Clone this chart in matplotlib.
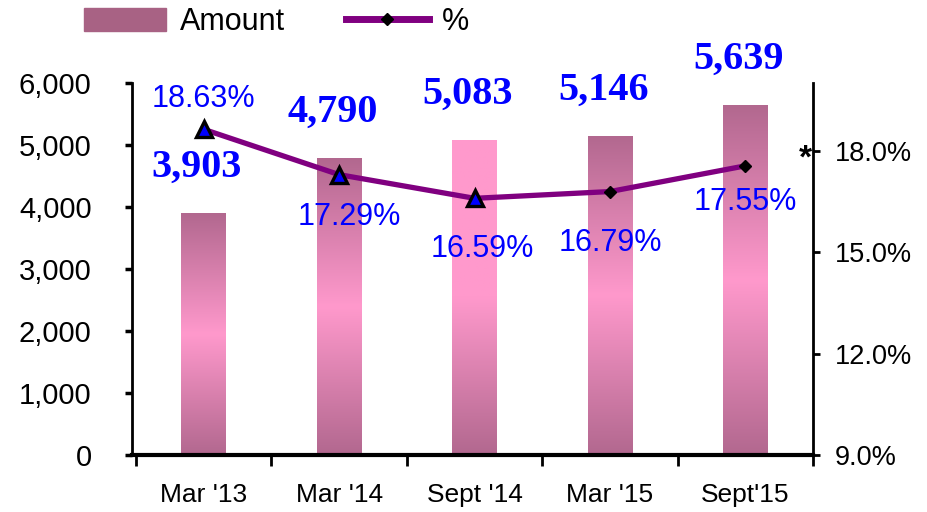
import numpy as np
import matplotlib
matplotlib.use("Agg")
import matplotlib.pyplot as plt
from matplotlib.colors import LinearSegmentedColormap
from matplotlib.lines import Line2D
from matplotlib.patches import Patch

# data
periods = ["Mar '13", "Mar '14", "Sept '14", "Mar '15", "Sept'15"]
amount = [3903, 4790, 5083, 5146, 5639]
pct = [18.63, 17.29, 16.59, 16.79, 17.55]
amount_labels = ["3,903", "4,790", "5,083", "5,146", "5,639"]
pct_labels = ["18.63%", "17.29%", "16.59%", "16.79%", "17.55%"]

plt.rcParams['font.family'] = ['Liberation Sans', 'DejaVu Sans']

dark = "#B2688F"
pink = "#FF99CC"
blue = "#0000FF"
purple = "#800080"

fig = plt.figure(figsize=(9.28, 5.12), dpi=100)
ax = fig.add_axes([132/928, 57/512, (813-132)/928, (455-83)/512])

x = np.arange(len(periods))
bars = ax.bar(x, amount, width=0.33, color="none", zorder=2)

# vertical gradient inside every bar (dark - pink - dark)
cm_mid = LinearSegmentedColormap.from_list("mid", [dark, pink, dark])
cm_up = LinearSegmentedColormap.from_list("up", [dark, pink, pink])
grad = np.linspace(0, 1, 256).reshape(-1, 1)
for i, b in enumerate(bars):
    cmap = cm_up if i == 2 else cm_mid
    x0, w, h = b.get_x(), b.get_width(), b.get_height()
    im = ax.imshow(grad, cmap=cmap, origin="lower", aspect="auto",
                   extent=(x0, x0 + w, 0, h), zorder=2)
    im.set_clip_path(b)

ax.set_xlim(-0.53, 4.5)
ax.set_ylim(0, 6000)
ax.set_yticks(range(0, 6001, 1000))
ax.set_yticklabels([f"{v:,}" for v in range(0, 6001, 1000)])
ax.set_xticks(x)
ax.set_xticklabels(periods)
ax.set_xticks(np.arange(-0.5, 5, 1), minor=True)
ax.tick_params(axis="x", which="major", length=0, labelsize=19, pad=20)
ax.tick_params(axis="x", which="minor", length=8, width=2, direction="out")
ax.tick_params(axis="y", labelsize=21, length=5, width=2.5, pad=24)
ax.spines["top"].set_visible(False)
ax.spines["right"].set_visible(False)
ax.spines["left"].set_linewidth(2)
ax.spines["bottom"].set_linewidth(3)

for xi, v, lab in zip(x, amount, amount_labels):
    ax.annotate(lab, (xi - 0.05, v), xytext=(0, 46), textcoords="offset pixels",
                ha="center", va="center", color=blue, fontsize=29,
                fontweight="bold", family="Liberation Serif", annotation_clip=False)

ax2 = ax.twinx()
ax2.set_ylim(9, 20)
ax2.set_yticks([9, 12, 15, 18])
ax2.set_yticklabels([f"{v:.1f}%" for v in [9, 12, 15, 18]])
ax2.tick_params(axis="y", labelsize=19.5, length=5, width=2, pad=11)
for s in ["top", "left", "bottom"]:
    ax2.spines[s].set_visible(False)
ax2.spines["right"].set_linewidth(2)

ax2.plot(x, pct, color=purple, lw=3.8, zorder=3)
ax2.plot(x[:3], pct[:3], ls="none", marker="^", ms=12, mfc=blue, mec="black",
         mew=2.4, zorder=4)
ax2.plot(x[3:], pct[3:], ls="none", marker="D", ms=6, mfc="black", mec="black",
         zorder=4)

pct_off = [(0, 30), (10, -42), (8, -51), (0, -51), (0, -36)]
for xi, v, lab, (dx, dy) in zip(x, pct, pct_labels, pct_off):
    ax2.annotate(lab, (xi, v), xytext=(dx, dy), textcoords="offset pixels",
                 ha="center", va="center", color=blue, fontsize=22)

ax2.annotate("*", (4.5, 18), xytext=(-8, -8), textcoords="offset pixels",
             ha="center", va="center", fontsize=24, fontweight="bold",
             annotation_clip=False)

handles = [Patch(color="#A86284"),
           Line2D([], [], color=purple, lw=5, marker="D", ms=6, mfc="black",
                  mec="black")]
fig.legend(handles, ["Amount", "%"], loc="center", bbox_to_anchor=(0.298, 0.957),
           ncol=2, frameon=False, fontsize=22, handlelength=2.7,
           handleheight=0.8, columnspacing=2.0, handletextpad=0.45)

fig.savefig("out.png", dpi=100)
